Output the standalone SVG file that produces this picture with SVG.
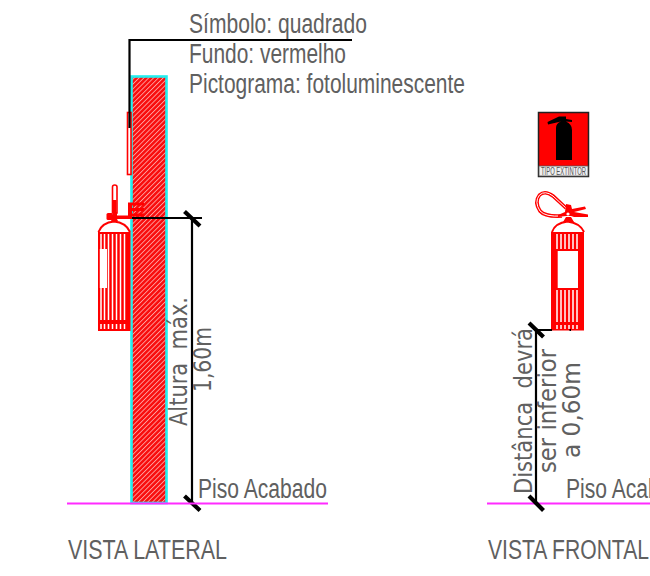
<svg xmlns="http://www.w3.org/2000/svg" width="650" height="576" viewBox="0 0 650 576">
<style>
text{fill:#606060;font-family:"Liberation Sans",Arial,sans-serif;font-size:27px}
.r{font-family:"DejaVu Sans",sans-serif;font-size:25px}
.k{stroke:#000;fill:none;stroke-width:2.2}
.t{stroke:#000;fill:none;stroke-width:4.200}
.m{stroke:#ff2bff;fill:none;stroke-width:2.2}
</style>
<defs>
<pattern id="h" width="3.4" height="3.4" patternUnits="userSpaceOnUse" patternTransform="rotate(45)">
<rect width="3.4" height="3.4" fill="#f80d0d"/><rect width="0.9" height="3.4" fill="#ffa0a0"/>
</pattern>
</defs>
<g id="parede">
<rect x="131.500" y="76.500" width="35" height="426.500" fill="url(#h)" stroke="#22eeee" stroke-width="2.600"/>
</g>
<g id="sinal-lateral">
<rect x="127.500" y="112.500" width="3.500" height="62" fill="#fff" stroke="#f00" stroke-width="1.600"/>
</g>
<g id="extintor-lateral">
<path d="M112.500 213V187Q112.500 185 114.700 185Q117 185 117 187V213Z" fill="#fff" stroke="#f00" stroke-width="1.600"/>
<rect x="113" y="200" width="3.500" height="13" fill="#f00"/>
<rect x="106.500" y="213" width="6.500" height="7" rx="1.500" fill="#f00"/>
<rect x="108" y="215.500" width="24" height="3.500" fill="#f00"/>
<rect x="113" y="212" width="4" height="7" fill="#f00"/>
<path d="M128 202.500H144V205.500H132V208H144V211H132V213.500H144V216.500H128Z" fill="#f00"/>
<path d="M98.500 232Q102 222.500 114 221.500Q126 222.500 130 232" fill="#fff" stroke="#f00" stroke-width="2"/>
<path d="M111 221L113 217H116L118 221Z" fill="#f00"/>
<rect x="98" y="232" width="32.500" height="99" fill="#f00"/>
<g stroke="#fff" stroke-width="1.500" fill="none">
<path d="M101 234V249M101 288V320M101 324V329M104.500 234V249M104.500 288V320M104.500 324V329M108.500 234V320M108.500 324V329M112.500 234V320M112.500 324V329M116.500 234V320M116.500 324V329M120.500 234V320M120.500 324V329M124.500 234V320M124.500 324V329"/>
</g>
<rect x="99.800" y="249" width="7.200" height="39" fill="#fff"/>
</g>
<g id="sinal-frontal">
<rect x="538.500" y="112.500" width="50" height="64" fill="#f00" stroke="#222" stroke-width="1.500"/>
<rect x="539" y="166" width="49" height="10" fill="#eee" stroke="#555" stroke-width="0.800"/>
<path d="M556 160V128Q556 123 561 121.500L548 124.500L547.500 122L559 116.500H566V119L572 120V122L566 121.500Q572 124 572 130V160Z" fill="#000"/>
<text x="541" y="175" textLength="45" lengthAdjust="spacingAndGlyphs" style="font-size:10px;fill:#555">TIPO EXTINTOR</text>
</g>
<g id="extintor-frontal">
<path d="M566 208L553 196Q545 190 539.500 195Q534 202 540 211Q545 217 562 216" fill="none" stroke="#f00" stroke-width="3.600"/>
<path d="M566 208L553 196Q545 190 539.500 195Q534 202 540 211Q545 217 562 216" fill="none" stroke="#fff" stroke-width="1"/>
<path d="M566 204L571 205L572 209L585 206.500L586 209L574 212L588 214.500V217H574L571 216L566 216L558 217V215L565 212Z" fill="#f00"/>
<circle cx="568" cy="214" r="1.600" fill="#fff"/>
<path d="M563 222L566 217H571L574 222Z" fill="#f00"/>
<path d="M552 232Q555 223 567.500 221.500Q580 223 584 232" fill="#fff" stroke="#f00" stroke-width="2"/>
<rect x="551" y="232" width="33" height="98.500" fill="#f00"/>
<g stroke="#fff" stroke-width="1.500" fill="none">
<path d="M557 234V249M561 234V249M565 234V249M569 234V249M573 234V249M577 234V249M557 290V322M561 290V322M565 290V322M569 290V322M573 290V322M577 290V322M557 325V329M561 325V329M565 325V329M569 325V329M573 325V329M577 325V329"/>
</g>
<rect x="557.700" y="251" width="20.300" height="37" fill="#fff"/>
</g>
<g id="conectores">
<path class="k" d="M352 40H129.500V128"/>
<path class="k" d="M132 218H202M192 218V503"/>
<path class="t" d="M184.500 211.500L200 226M184.500 496L200 510.500"/>
<path class="m" d="M67 503.500H328M487 503.500H650"/>
<path class="k" d="M536 330V503M536 330H552"/>
<path d="M569.500 330H571" stroke="#000" stroke-width="2"/>
<path class="t" d="M529 323L543.500 337M529 496L543.500 510.500"/>
</g>
<g id="textos">
<text x="189" y="33" textLength="178" lengthAdjust="spacingAndGlyphs">Símbolo: quadrado</text>
<text x="189" y="63" textLength="157" lengthAdjust="spacingAndGlyphs">Fundo: vermelho</text>
<text x="189" y="93" textLength="276" lengthAdjust="spacingAndGlyphs">Pictograma: fotoluminescente</text>
<text x="198" y="498" textLength="129" lengthAdjust="spacingAndGlyphs">Piso Acabado</text>
<text x="566" y="498" textLength="129" lengthAdjust="spacingAndGlyphs">Piso Acabado</text>
<text x="68" y="559" textLength="159" lengthAdjust="spacingAndGlyphs">VISTA LATERAL</text>
<text x="488" y="559" textLength="161" lengthAdjust="spacingAndGlyphs">VISTA FRONTAL</text>
<text class="r" transform="translate(187,426) rotate(-90)" textLength="129" lengthAdjust="spacingAndGlyphs" xml:space="preserve">Altura  máx.</text>
<text class="r" transform="translate(211,392) rotate(-90)" textLength="65" lengthAdjust="spacingAndGlyphs">1,60m</text>
<text class="r" transform="translate(532,494) rotate(-90)" textLength="166" lengthAdjust="spacingAndGlyphs" xml:space="preserve">Distânca  devrá</text>
<text class="r" transform="translate(556,473) rotate(-90)" textLength="124" lengthAdjust="spacingAndGlyphs">ser inferior</text>
<text class="r" transform="translate(580,458) rotate(-90)" textLength="96" lengthAdjust="spacingAndGlyphs">a 0,60m</text>
</g>
</svg>
